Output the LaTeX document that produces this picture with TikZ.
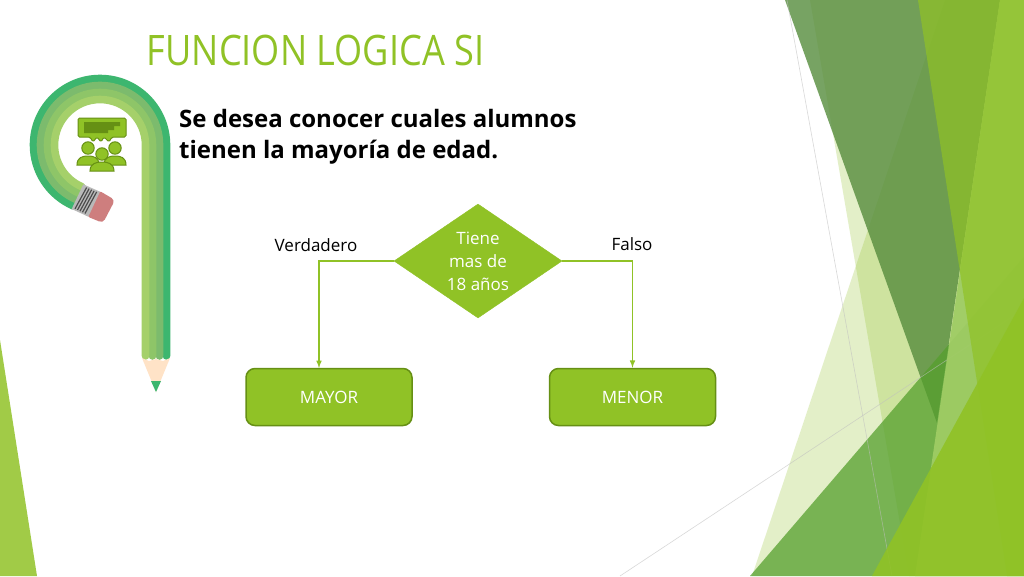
\documentclass[tikz,border=0pt]{standalone}
\usepackage{fontspec}
\setmainfont{Open Sans}
\newfontfamily\titlefont[FakeStretch=0.86]{Open Sans}
\usetikzlibrary{shapes.geometric,calc}
\definecolor{facetgreen}{HTML}{90C226}
\definecolor{facetdark}{HTML}{568C3D}
\definecolor{facetmid}{HTML}{559F2D}
\definecolor{facetlight}{HTML}{9FCC64}
\definecolor{edgegreen}{HTML}{669014}
\definecolor{pencilA}{HTML}{3DB66F}
\definecolor{pencilB}{HTML}{7CBB6D}
\definecolor{pencilC}{HTML}{8EC568}
\definecolor{pencilD}{HTML}{A5D06A}
\tikzset{
  resultbox/.style={draw=edgegreen, fill=facetgreen, line width=1.5pt, rounded corners=9pt,
    minimum width=166pt, minimum height=57pt, text=white, font=\fontsize{17}{20}\selectfont},
  question/.style={diamond, fill=facetgreen, draw=facetgreen, inner sep=0pt, shape aspect=1.47,
    minimum width=168pt, minimum height=114pt, text=white, align=center,
    font=\fontsize{17}{23}\selectfont},
  branchlabel/.style={text=black, font=\fontsize{17}{20}\selectfont},
  link/.style={draw=facetgreen, line width=1.5pt, -latex},
  hairline/.style={draw=gray!50, line width=0.6pt, opacity=.6}
}
\begin{document}
\begin{tikzpicture}[x=1pt, y=-1pt]
      \fill[white] (0, 0) rectangle (1024, 576);
      \clip (0, 0) rectangle (1024, 576);
      % facets
      \fill[facetgreen, opacity=.25] (810, 0) -- (909, 576) -- (1024, 576) -- (1024, 0) -- cycle;
      \fill[facetgreen, opacity=.25] (945, 0) -- (752, 576) -- (1024, 576) -- (1024, 0) -- cycle;
      \fill[facetdark, opacity=.8] (785, 0) -- (1000, 0) -- (937, 423) -- cycle;
      \fill[facetmid, opacity=.75] (750, 576) -- (1024, 257) -- (1024, 576) -- cycle;
      \draw[hairline] (787, 0) -- (892, 576);
      \draw[hairline] (620, 576) -- (1024, 309);
      \fill[facetlight, opacity=.95] (1000, 0) -- (1024, 0) -- (1024, 576) -- (915, 576) -- cycle;
      \fill[facetgreen, opacity=.7] (918, 0) -- (1024, 0) -- (1024, 576) -- (1007, 576) -- cycle;
      \fill[facetgreen, opacity=.9] (872, 576) -- (1024, 298) -- (1024, 576) -- cycle;
      \fill[facetgreen!85!white] (0, 340) -- (37, 576) -- (0, 576) -- cycle;
      % pencil
      \foreach \r/\c in {66.5/pencilA, 59.5/pencilB, 52.5/pencilC, 45.5/pencilD}
        \draw[\c, line width=7.6pt, line cap=round]
          ({100+\r}, 356) -- ({100+\r}, 145) arc[start angle=0, end angle=-246.4, radius=\r];
      \fill[orange!22!white] (142, 358) -- (156, 392) -- (170, 358) -- (163, 361) -- (156, 359) -- (149, 361) -- cycle;
      \fill[pencilA] (151, 381) -- (161, 381) -- (156, 392) -- cycle;
      \fill[red!45!gray!70!white, rounded corners=4pt] (98, 190) -- (115, 200) -- (103, 223) -- (86, 216) -- cycle;
      \fill[gray!55!white] (83.3, 184.3) -- (100, 191.7) -- (88.3, 216.7) -- (71.7, 209) -- cycle;
      \foreach \s in {0.2, 0.35, 0.5, 0.65, 0.8}
        \draw[black!70, line width=1.2pt]
          ($(83.3, 186)!\s!(100, 193.4)$) -- ($(71.7, 207.3)!\s!(88.3, 215)$);
      % people icon
      \filldraw[fill=facetgreen, draw=edgegreen, line width=1pt, rounded corners=1.5pt]
        (78, 118) -- (126, 118) -- (126, 137) -- (112, 137) -- (109, 142) -- (104, 137) -- (101, 142)
        -- (97, 137) -- (93, 142) -- (90, 137) -- (78, 137) -- cycle;
      \fill[edgegreen] (84, 122) rectangle (120, 126) (84, 126) rectangle (114, 130) (84, 130) rectangle (108, 133);
      \foreach \x/\y/\w in {88/148/11, 115/148/11, 102/154/12} {
        \filldraw[fill=facetgreen, draw=edgegreen, line width=1pt]
          (\x-\w, \y+17) .. controls (\x-\w, \y+9) and (\x-5, \y+8) .. (\x, \y+8)
          .. controls (\x+5, \y+8) and (\x+\w, \y+9) .. (\x+\w, \y+17) -- cycle;
        \filldraw[fill=facetgreen, draw=edgegreen, line width=1pt] (\x, \y) circle (6.2);
      }
      % title and text
      \node (title) at (315.5, 50) {\color{facetgreen}\titlefont\fontsize{42}{46}\selectfont FUNCION LOGICA SI};
      \node (intro) [anchor=north west, inner sep=0pt, align=left, font=\bfseries\fontsize{24}{31}\selectfont]
        at (179, 109) {Se desea conocer cuales alumnos\\tienen la mayoría de edad.};
      % flow chart
      \node (ask) [question] at (478, 261) {Tiene\\mas de\\18 años};
      \node (mayor) [resultbox] at (329, 397) {MAYOR};
      \node (menor) [resultbox] at (632.5, 397) {MENOR};
      \coordinate (mayortop) at (319, 368);
      \node (yes) [branchlabel] at (316, 245) {Verdadero};
      \node (no) [branchlabel] at (632, 244) {Falso};
      \draw[link] (ask.west) -| (mayortop);
      \draw[link] (ask.east) -| (menor.north);
      \end{tikzpicture}
\end{document}
